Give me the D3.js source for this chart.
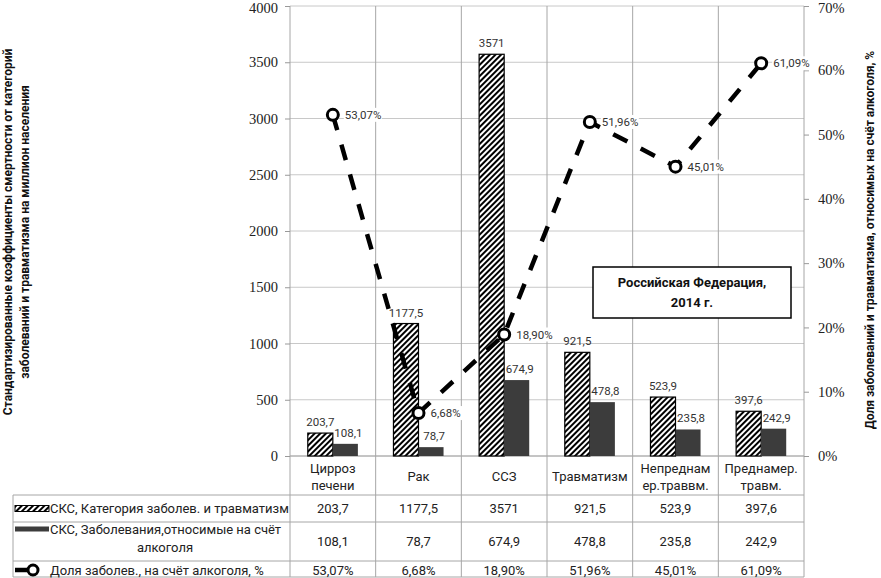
<!DOCTYPE html>
<html><head><meta charset="utf-8">
<script src="https://cdn.jsdelivr.net/npm/d3@7/dist/d3.min.js"></script>
<style>
body{margin:0;background:#fff;}
svg{display:block;}
</style></head>
<body>
<svg id="chart" width="881" height="578"></svg>
<script>
// ---- data ----
const categories = ["Цирроз печени","Рак","ССЗ","Травматизм","Непреднамер.траввм.","Преднамер. травм."];
const categoryLines = [["Цирроз","печени"],["Рак"],["ССЗ"],["Травматизм"],["Непреднам","ер.траввм."],["Преднамер.","травм."]];
const valuesTotal = [203.7,1177.5,3571,921.5,523.9,397.6];
const valuesAlcohol = [108.1,78.7,674.9,478.8,235.8,242.9];
const shareAlcohol = [53.07,6.68,18.90,51.96,45.01,61.09];
const leftTicks = [0,500,1000,1500,2000,2500,3000,3500,4000];
const rightTicks = [0,10,20,30,40,50,60,70];
const seriesNames = ["СКС, Категория заболев. и травматизм","СКС, Заболевания,относимые на счёт алкоголя","Доля заболев., на счёт алкоголя, %"];
const leftTitle = ["Стандартизированные коэффициенты смертности от категорий","заболеваний и травматизма на миллион населения"];
const rightTitle = "Доля заболеваний и травматизма, относимых на счёт алкоголя, %";
const boxText = ["Российская Федерация,","2014 г."];

// ---- layout ----
const svg = d3.select("#chart");
const L = 290, R = 804, T = 6, B = 456;
const tableLeft = 13, rowY = [456, 495, 522, 561, 577];
const sansFont = "Roboto, 'Open Sans', sans-serif";
const serifFont = "'Liberation Serif', 'DejaVu Serif', serif";

const x = d3.scaleBand().domain(categories).range([L, R]).paddingInner(0).paddingOuter(0);
const xs = d3.scaleBand().domain(["total","alc"]).range([0, x.bandwidth()]).paddingInner(0).paddingOuter(0.71);
const y = d3.scaleLinear().domain([0, 4000]).range([B, T]);
const y2 = d3.scaleLinear().domain([0, 70]).range([B, T]);

const fmtNum = v => (Number.isInteger(v) ? String(v) : v.toFixed(1)).replace(".", ",");
const fmtPct = v => v.toFixed(2).replace(".", ",") + "%";

// hatch pattern
const defs = svg.append("defs");
const pat = defs.append("pattern").attr("id","hatch").attr("patternUnits","userSpaceOnUse")
  .attr("width",4).attr("height",4).attr("patternTransform","rotate(45)");
pat.append("rect").attr("width",4).attr("height",4).attr("fill","#fff");
pat.append("line").attr("x1",1).attr("y1",-1).attr("x2",1).attr("y2",5).attr("stroke","#000").attr("stroke-width",2);

// horizontal gridlines
svg.append("g").selectAll("line").data(leftTicks).join("line")
  .attr("x1", L).attr("x2", R).attr("y1", d => y(d)).attr("y2", d => y(d))
  .attr("stroke", "#c8c8c8").attr("stroke-width", 1);

// vertical lines (category boundaries through plot and table)
const bounds = categories.map(c => x(c)).concat([R]);
svg.append("g").selectAll("line").data(bounds).join("line")
  .attr("x1", d => d).attr("x2", d => d).attr("y1", T).attr("y2", rowY[4])
  .attr("stroke", "#a6a6a6").attr("stroke-width", 1);

// table horizontal lines
svg.append("line").attr("x1", L).attr("x2", R).attr("y1", B).attr("y2", B).attr("stroke","#a6a6a6");
svg.append("g").selectAll("line").data(rowY.slice(1)).join("line")
  .attr("x1", tableLeft).attr("x2", R).attr("y1", d => d).attr("y2", d => d)
  .attr("stroke", "#a6a6a6").attr("stroke-width", 1);
svg.append("line").attr("x1", tableLeft).attr("x2", tableLeft).attr("y1", rowY[1]).attr("y2", rowY[4]).attr("stroke","#a6a6a6");

// left axis
const gl = svg.append("g").attr("transform", `translate(${L},0)`)
  .call(d3.axisLeft(y).tickValues(leftTicks).tickSize(5).tickPadding(7).tickFormat(d => d));
gl.select(".domain").remove();
gl.selectAll(".tick line").attr("stroke", "#999");
gl.selectAll("text").attr("font-family", serifFont).attr("font-size", 14.5).attr("fill", "#222");

// right axis
const gr = svg.append("g").attr("transform", `translate(${R},0)`)
  .call(d3.axisRight(y2).tickValues(rightTicks).tickSize(5).tickPadding(9).tickFormat(d => d + "%"));
gr.select(".domain").remove();
gr.selectAll(".tick line").attr("stroke", "#999");
gr.selectAll("text").attr("font-family", serifFont).attr("font-size", 14.5).attr("fill", "#222");
// keep top tick labels inside the frame
gl.selectAll(".tick").filter(d => d === 4000).select("text").attr("dy", "0.45em");
gr.selectAll(".tick").filter(d => d === 70).select("text").attr("dy", "0.45em");

// bars
const bars = svg.append("g");
bars.selectAll("rect.t").data(categories).join("rect").attr("class","t")
  .attr("x", c => x(c) + xs("total")).attr("width", xs.bandwidth())
  .attr("y", (c,i) => y(valuesTotal[i])).attr("height", (c,i) => B - y(valuesTotal[i]))
  .attr("fill", "url(#hatch)").attr("stroke", "#000").attr("stroke-width", 1.2);
bars.selectAll("rect.a").data(categories).join("rect").attr("class","a")
  .attr("x", c => x(c) + xs("alc")).attr("width", xs.bandwidth())
  .attr("y", (c,i) => y(valuesAlcohol[i])).attr("height", (c,i) => B - y(valuesAlcohol[i]))
  .attr("fill", "#3c3c3c");

// bar labels
const labelStyle = s => s.attr("font-family", sansFont).attr("font-size", 11.5).attr("fill", "#333").attr("text-anchor","middle");
svg.append("g").selectAll("text").data(categories).join("text")
  .attr("x", c => x(c) + xs("total") + xs.bandwidth()/2)
  .attr("y", (c,i) => y(valuesTotal[i]) - 7)
  .text((c,i) => fmtNum(valuesTotal[i])).call(labelStyle);
svg.append("g").selectAll("text").data(categories).join("text")
  .attr("x", c => x(c) + xs("alc") + xs.bandwidth()/2 + 3)
  .attr("y", (c,i) => y(valuesAlcohol[i]) - 7)
  .text((c,i) => fmtNum(valuesAlcohol[i])).call(labelStyle);

// line
const cx = c => x(c) + x.bandwidth()/2;
const line = d3.line().x((d,i) => cx(categories[i])).y(d => y2(d));
svg.append("path").datum(shareAlcohol).attr("d", line)
  .attr("fill","none").attr("stroke","#000").attr("stroke-width",4.5).attr("stroke-dasharray","16,15");
svg.append("g").selectAll("circle").data(shareAlcohol).join("circle")
  .attr("cx", (d,i) => cx(categories[i])).attr("cy", d => y2(d)).attr("r", 5.5)
  .attr("fill","#fff").attr("stroke","#000").attr("stroke-width",3);
const pl = svg.append("g").selectAll("g").data(shareAlcohol).join("g")
  .attr("transform", (d,i) => `translate(${cx(categories[i]) + 12},${y2(d)})`);
pl.append("rect").attr("x",-1).attr("y",-7).attr("width",38).attr("height",14).attr("fill","#fff");
pl.append("text").attr("x",0).attr("dy","0.35em").text(d => fmtPct(d))
  .attr("font-family", sansFont).attr("font-size", 11.5).attr("fill", "#333");

// table: category names
const cellText = s => s.attr("font-family", sansFont).attr("font-size", 13).attr("fill", "#222").attr("text-anchor","middle");
categories.forEach((c,i) => {
  const lines = categoryLines[i];
  const mid = (rowY[0] + rowY[1]) / 2 + 1;
  lines.forEach((t,k) => {
    svg.append("text").attr("x", cx(c)).attr("y", mid + (k - (lines.length-1)/2) * 17).attr("dy","0.35em")
      .text(t).call(cellText);
  });
  svg.append("text").attr("x", cx(c)).attr("y", (rowY[1]+rowY[2])/2).attr("dy","0.35em").text(fmtNum(valuesTotal[i])).call(cellText);
  svg.append("text").attr("x", cx(c)).attr("y", (rowY[2]+rowY[3])/2).attr("dy","0.35em").text(fmtNum(valuesAlcohol[i])).call(cellText);
  svg.append("text").attr("x", cx(c)).attr("y", (rowY[3]+rowY[4])/2 + 1).attr("dy","0.35em").text(fmtPct(shareAlcohol[i])).call(cellText);
});

// table legend cells
const r1 = (rowY[1]+rowY[2])/2;
svg.append("rect").attr("x",15).attr("y",r1-3).attr("width",34).attr("height",6)
  .attr("fill","url(#hatch)").attr("stroke","#000").attr("stroke-width",1);
svg.append("text").attr("x",50).attr("y",r1).attr("dy","0.35em").text(seriesNames[0]).call(cellText).attr("text-anchor","start");
const r2a = 529, r2b = 547;
svg.append("rect").attr("x",15).attr("y",r2a-2.5).attr("width",34).attr("height",5).attr("fill","#3c3c3c");
const parts = seriesNames[1].split(" алкоголя");
svg.append("text").attr("x",50).attr("y",r2a).attr("dy","0.35em").text(parts[0]).call(cellText).attr("text-anchor","start");
svg.append("text").attr("x",165).attr("y",r2b).attr("dy","0.35em").text("алкоголя").call(cellText);
const r3 = (rowY[3]+rowY[4])/2 + 1;
svg.append("line").attr("x1",15).attr("x2",30).attr("y1",r3).attr("y2",r3).attr("stroke","#000").attr("stroke-width",4.5);
svg.append("circle").attr("cx",33).attr("cy",r3).attr("r",5).attr("fill","#fff").attr("stroke","#000").attr("stroke-width",3);
svg.append("text").attr("x",50).attr("y",r3).attr("dy","0.35em").text(seriesNames[2]).call(cellText).attr("text-anchor","start");

// info box
svg.append("rect").attr("x",593).attr("y",267).attr("width",198).attr("height",51)
  .attr("fill","#fff").attr("stroke","#000").attr("stroke-width",1.5);
boxText.forEach((t,k) => svg.append("text").attr("x",692).attr("y",282 + k*20).attr("dy","0.35em")
  .text(t).attr("font-family",sansFont).attr("font-size",13).attr("font-weight","bold").attr("fill","#111").attr("text-anchor","middle"));

// axis titles
const lt = svg.append("g").attr("transform","translate(0,232) rotate(-90)");
leftTitle.forEach((t,k) => lt.append("text").attr("x",0).attr("y",8 + k*17).attr("dy","0.35em")
  .text(t).attr("font-family",sansFont).attr("font-size",12).attr("font-weight","bold").attr("fill","#111").attr("text-anchor","middle"));
svg.append("g").attr("transform","translate(870,240) rotate(-90)")
  .append("text").attr("dy","0.35em").text(rightTitle)
  .attr("font-family",sansFont).attr("font-size",12).attr("font-weight","bold").attr("fill","#111").attr("text-anchor","middle");
</script>
</body></html>
